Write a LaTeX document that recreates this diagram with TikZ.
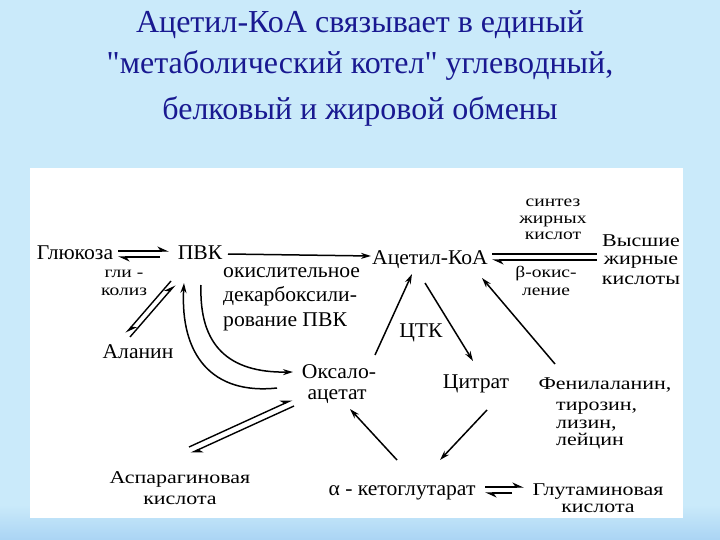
\documentclass[tikz,border=0pt]{standalone}
\usepackage{fontspec}
\setmainfont{Liberation Serif}
\newfontfamily\tfont[Ligatures=TeXOff]{Liberation Serif}
\newfontfamily\dfont[FakeStretch=1.03]{Liberation Serif}
\newfontfamily\sfont[FakeStretch=1.22]{Liberation Serif}
\usetikzlibrary{arrows.meta,calc}
\definecolor{bgblue}{RGB}{202,234,250}
\definecolor{bgdeep}{RGB}{170,212,244}
\definecolor{titleblue}{RGB}{25,25,145}
\begin{document}
\begin{tikzpicture}[x=1pt,y=-1pt,
  lbl/.style={inner sep=0pt, anchor=base, font=\dfont\fontsize{21}{23}\selectfont},
  sm/.style={inner sep=0pt, anchor=base, font=\sfont\fontsize{16}{17}\selectfont},
  md/.style={inner sep=0pt, anchor=base, font=\sfont\fontsize{18}{19}\selectfont},
  ttl/.style={inner sep=0pt, anchor=base, text=titleblue, font=\tfont\fontsize{32}{34}\selectfont},
  arr/.style={line width=1.5pt, -{Stealth[length=10pt,width=6pt]}},
  harp/.style={line width=1.4pt, -{Stealth[harpoon,length=10pt,width=9pt]}},
  ln/.style={line width=1.4pt}]
\useasboundingbox (0,0) rectangle (720,540);
% background
\fill[bgblue] (0,0) rectangle (720,540);
\shade[top color=bgblue, bottom color=bgdeep] (0,505) rectangle (720,540);
\fill[white] (30,168) rectangle (683,518);

% title
\node[ttl] (t1) at (360,33) {Ацетил-КоА связывает в единый};
\node[ttl] (t2) at (360,74) {"метаболический котел" углеводный,};
\node[ttl] (t3) at (360,120) {белковый и жировой обмены};

% labels
\node[lbl] (glu) at (75,259) {Глюкоза};
\node[lbl] (pvk) at (200,259) {ПВК};
\node[lbl] (acoa) at (430,264) {Ацетил-КоА};
\node[sm] (syn1) at (553,207) {синтез};
\node[sm] (syn2) at (553,223) {жирных};
\node[sm] (syn3) at (553,240) {кислот};
\node[md] (vfa1) at (641,247) {Высшие};
\node[md] (vfa2) at (641,264) {жирные};
\node[md] (vfa3) at (641,284) {кислоты};
\node[sm] (beta1) at (546,277) {β-окис-};
\node[sm] (beta2) at (546,295) {ление};
\node[sm] (gly1) at (124,277) {гли -};
\node[sm] (gly2) at (124,295) {колиз};
\node[lbl, anchor=base west] (oxd1) at (223,277) {окислительное};
\node[lbl, anchor=base west] (oxd2) at (223,301) {декарбоксили-};
\node[lbl, anchor=base west] (oxd3) at (223,326) {рование ПВК};
\node[lbl] (tca) at (421,337) {ЦТК};
\node[lbl] (ala) at (138,358) {Аланин};
\node[lbl] (oxa1) at (339,378) {Оксало-};
\node[lbl] (oxa2) at (337,399) {ацетат};
\node[lbl] (citr) at (476,388) {Цитрат};
\node[md] (phe1) at (605,389) {Фенилаланин,};
\node[md, anchor=base west] (phe2) at (556,410) {тирозин,};
\node[md, anchor=base west] (phe3) at (556,428) {лизин,};
\node[md, anchor=base west] (phe4) at (556,445) {лейцин};
\node[md] (asp1) at (180,483) {Аспарагиновая};
\node[md] (asp2) at (180,504) {кислота};
\node[lbl] (akg) at (402,495) {α - кетоглутарат};
\node[md] (glut1) at (598,495) {Глутаминовая};
\node[md] (glut2) at (598,512) {кислота};

% connectors
\draw[harp] ($(glu.base)+(43,-8)$) -- ($(pvk.base)+(-31,-8)$);
\draw[harp] ($(pvk.base)+(-40,-2)$) -- ($(glu.base)+(43,-2)$);
\draw[arr] ($(pvk.base)+(28,-5)$) -- ($(acoa.base)+(-59,-8)$);
\draw[ln] ($(acoa.base)+(62,-10)$) -- ($(vfa2.base)+(-44,-10)$);
\draw[harp] ($(vfa2.base)+(-44,-4)$) -- ($(acoa.base)+(62,-4)$);
\draw[harp] ($(ala.base)+(-8,-21)$) -- ($(pvk.base)+(-25,26)$);
\draw[harp] ($(pvk.base)+(-29,22)$) -- ($(ala.base)+(-12,-25)$);
\draw[arr] ($(pvk.base)+(1,26)$) .. controls +(-2,60) and +(-65,1) .. ($(oxa1.base)+(-46,-6)$);
\draw[arr] ($(oxa1.base)+(-62,10)$) .. controls +(-65,7) and +(-4,72) .. ($(pvk.base)+(-16,24)$);
\draw[harp] ($(asp1.base)+(9,-36)$) -- ($(oxa2.base)+(-45,1)$);
\draw[harp] ($(oxa2.base)+(-43,7)$) -- ($(asp1.base)+(11,-30)$);
\draw[arr] ($(oxa1.base)+(36,-23)$) -- ($(acoa.base)+(-18,10)$);
\draw[arr] ($(acoa.base)+(-5,19)$) -- ($(citr.base)+(-3,-27)$);
\draw[arr] ($(phe1.base)+(-50,-25)$) -- ($(acoa.base)+(52,14)$);
\draw[arr] ($(citr.base)+(11,22)$) -- ($(akg.base)+(38,-35)$);
\draw[arr] ($(akg.base)+(-5,-35)$) -- ($(oxa2.base)+(13,10)$);
\draw[harp] ($(akg.base)+(83,-8)$) -- ($(glut1.base)+(-74,-8)$);
\draw[harp] ($(glut1.base)+(-86,-2)$) -- ($(akg.base)+(83,-2)$);
\end{tikzpicture}
\end{document}
